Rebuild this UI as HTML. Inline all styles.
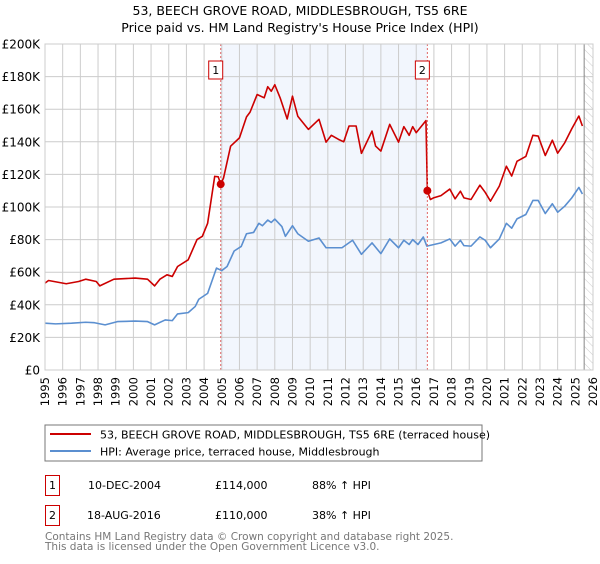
<!DOCTYPE html>
<html><head><meta charset="utf-8"><style>
body{margin:0;background:#fff;font-family:"DejaVu Sans","Liberation Sans",sans-serif;}
svg text{font-family:"DejaVu Sans","Liberation Sans",sans-serif;}
</style></head><body>
<svg id="c" width="600" height="560" xmlns="http://www.w3.org/2000/svg">
<text x="300" y="15" text-anchor="middle" font-size="12.5">53, BEECH GROVE ROAD, MIDDLESBROUGH, TS5 6RE</text>
<text x="300" y="32" text-anchor="middle" font-size="12.5">Price paid vs. HM Land Registry's House Price Index (HPI)</text>
<defs><pattern id="hatch" width="6" height="6" patternUnits="userSpaceOnUse" patternTransform="rotate(-45)"><line x1="0" y1="0" x2="0" y2="6" stroke="#ccc" stroke-width="1"/></pattern></defs>
<g id="grid"></g><g id="marks"></g><g id="axes"></g>
<rect x="45" y="425" width="437" height="36" fill="none" stroke="#777"/>
<line x1="50" y1="434" x2="91" y2="434" stroke="#cc0000" stroke-width="2"/>
<text x="100" y="438.5" font-size="11">53, BEECH GROVE ROAD, MIDDLESBROUGH, TS5 6RE (terraced house)</text>
<line x1="50" y1="451" x2="91" y2="451" stroke="#5b8fd0" stroke-width="2"/>
<text x="100" y="455.5" font-size="11">HPI: Average price, terraced house, Middlesbrough</text>
<rect x="45.5" y="475.5" width="14" height="20" fill="none" stroke="#cc0000"/>
<text x="52.5" y="489" text-anchor="middle" font-size="11">1</text>
<text x="88" y="489" font-size="11">10-DEC-2004</text>
<text x="215" y="489" font-size="11">£114,000</text>
<text x="312" y="489" font-size="11">88% ↑ HPI</text>
<rect x="45.5" y="505.5" width="14" height="20" fill="none" stroke="#cc0000"/>
<text x="52.5" y="519" text-anchor="middle" font-size="11">2</text>
<text x="87" y="519" font-size="11">18-AUG-2016</text>
<text x="215" y="519" font-size="11">£110,000</text>
<text x="312" y="519" font-size="11">38% ↑ HPI</text>
<text x="45" y="540" font-size="10.5" fill="#777">Contains HM Land Registry data © Crown copyright and database right 2025.</text>
<text x="45" y="550" font-size="10.5" fill="#777">This data is licensed under the Open Government Licence v3.0.</text>
</svg>
<script>
const hpiYears=[1995.0,1995.6,1996.5,1997.3,1997.8,1998.4,1999.1,2000.1,2000.8,2001.2,2001.8,2002.2,2002.5,2003.1,2003.5,2003.7,2004.2,2004.7,2005.0,2005.3,2005.7,2006.1,2006.4,2006.8,2007.1,2007.3,2007.6,2007.8,2008.0,2008.4,2008.6,2009.0,2009.3,2009.9,2010.5,2010.9,2011.8,2012.4,2012.9,2013.5,2014.0,2014.5,2015.0,2015.3,2015.6,2015.8,2016.1,2016.4,2016.6,2017.4,2017.9,2018.2,2018.5,2018.7,2019.1,2019.6,2019.9,2020.2,2020.7,2021.1,2021.4,2021.7,2022.2,2022.6,2022.9,2023.3,2023.7,2024.0,2024.4,2024.8,2025.2,2025.4];
const hpiValues=[28.7,28.3,28.7,29.3,29,27.7,29.7,30,29.7,27.7,30.7,30.3,34.4,35.2,39,43.4,47,62.5,61,63.5,73,75.8,83.6,84.4,90,88.5,92,90.5,92.6,88,82,88.5,83.6,79,81,75,75,79.6,71,78,71.4,80.4,75,79.6,77,80,77,81.6,76,78,80.4,76,79.6,76.3,76,81.6,79.6,75,80.4,90,87,92.7,95.4,104,104,96,102,96.8,100.5,105.6,112,108];
const priceYears=[1995.0,1995.2,1996.2,1996.9,1997.3,1997.9,1998.1,1998.9,2000.1,2000.8,2001.2,2001.5,2001.9,2002.2,2002.5,2003.1,2003.6,2003.9,2004.2,2004.6,2004.8,2004.94,2005.1,2005.5,2006.0,2006.4,2006.6,2007.0,2007.4,2007.6,2007.8,2008.0,2008.3,2008.7,2009.0,2009.3,2009.9,2010.5,2010.9,2011.2,2011.6,2011.9,2012.2,2012.6,2012.9,2013.5,2013.7,2014.0,2014.5,2015.0,2015.3,2015.6,2015.8,2016.0,2016.55,2016.63,2016.8,2017.0,2017.4,2017.9,2018.2,2018.5,2018.7,2019.1,2019.6,2019.9,2020.2,2020.7,2021.1,2021.4,2021.7,2022.2,2022.6,2022.9,2023.3,2023.7,2024.0,2024.4,2024.8,2025.2,2025.4];
const priceValues=[53.3,54.9,52.9,54.3,55.7,54.3,51.6,55.7,56.4,55.7,51.6,55.7,58.4,57.4,63.5,67.6,80,82,90,118.8,118.5,114,117.8,137.3,142.4,155.3,158.2,169,167,173.8,171,175,167,154,168,155.7,147.6,153.8,139.8,144,141.5,140,149.7,149.7,132.9,146.6,137.4,134.3,150.7,139.8,149.3,144,149.3,145.6,153,110,104.6,105.7,107,111,105,109.7,105.6,104.6,113.4,109,103.6,112.8,125,119,128,131,144,143.5,131.6,141,133,139.4,148,155.8,149.7];
const sales=[{n:"1",t:2004.94,v:114},{n:"2",t:2016.63,v:110}];
const yTicks=[0,20,40,60,80,100,120,140,160,180,200];
const xTicks=[];for(let y=1995;y<=2026;y++)xTicks.push(y);
const L=45,R=593,T=44,B=370;
const X=t=>L+(t-1995)*(R-L)/31;
const Y=v=>B-v*(B-T)/200;
const NS="http://www.w3.org/2000/svg";
function mk(p,tag,a){const e=document.createElementNS(NS,tag);for(const k in a)e.setAttribute(k,a[k]);p.appendChild(e);return e;}
const grid=document.getElementById('grid'),marks=document.getElementById('marks'),axes=document.getElementById('axes');
const shade=mk(grid,'rect',{x:X(sales[0].t),y:T,width:X(sales[1].t)-X(sales[0].t),height:B-T,fill:'#eef3fc',opacity:0.75});


const hat=mk(grid,'rect',{x:X(2025.5),y:T,width:R-X(2025.5),height:B-T,fill:'url(#hatch)'});


xTicks.forEach(y=>{const l=mk(grid,'line',{x1:X(y),x2:X(y),y1:T,y2:B,stroke:'#ccc'});


const t=mk(axes,'text',{x:0,y:0,'font-size':11.5,'text-anchor':'end',transform:`translate(${X(y)+4},${B+7}) rotate(-90)`});t.textContent=y;

});
yTicks.forEach(v=>{const l=mk(grid,'line',{x1:L,x2:R,y1:Y(v),y2:Y(v),stroke:'#ccc'});


const t=mk(axes,'text',{x:L-5,y:Y(v)+4.5,'font-size':12,'text-anchor':'end'});t.textContent=v===0?'£0':'£'+v+'K';

});
const nl=mk(grid,'line',{x1:X(2025.5),x2:X(2025.5),y1:T,y2:B,stroke:'#888'});


const hp=mk(marks,'polyline',{points:hpiYears.map((t,i)=>X(t)+','+Y(hpiValues[i])).join(' '),fill:'none',stroke:'#5b8fd0','stroke-width':1.6,'stroke-linejoin':'round'});


const pp=mk(marks,'polyline',{points:priceYears.map((t,i)=>X(t)+','+Y(priceValues[i])).join(' '),fill:'none',stroke:'#cc0000','stroke-width':1.6,'stroke-linejoin':'round'});


sales.forEach(s=>{const d=mk(marks,'line',{x1:X(s.t),x2:X(s.t),y1:T,y2:B,stroke:'#e06666','stroke-dasharray':'2,2'});


const c=mk(marks,'circle',{cx:X(s.t),cy:Y(s.v),r:4,fill:'#cc0000'});


const b=mk(marks,'rect',{x:X(s.t)-12,y:61,width:14,height:18,fill:'#fff',stroke:'#cc0000'});


const t=mk(marks,'text',{x:X(s.t)-5,y:74,'font-size':11,'text-anchor':'middle'});t.textContent=s.n;

});
const fr=mk(axes,'rect',{x:L,y:T,width:R-L,height:B-T,fill:'none',stroke:'#ccc'});


</script>
</body></html>
